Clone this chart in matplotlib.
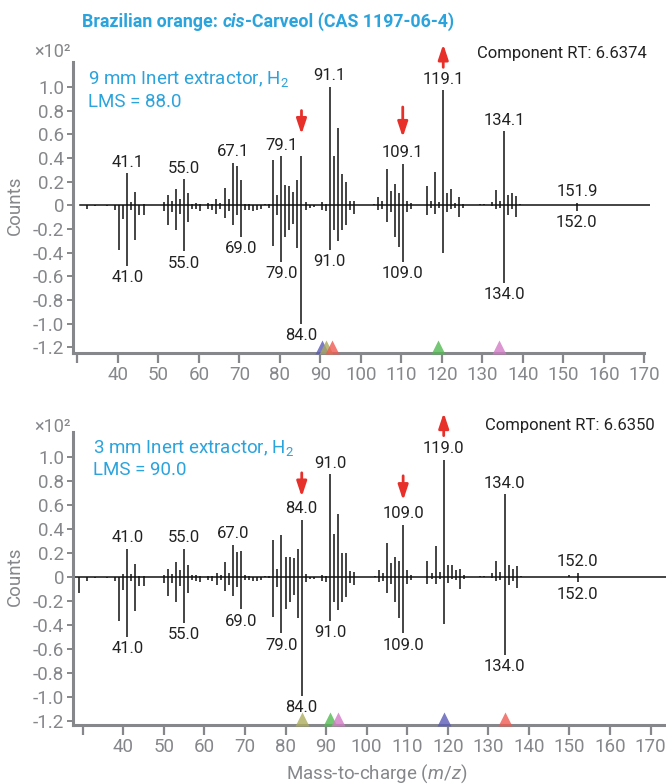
import numpy as np
import matplotlib
matplotlib.use("Agg")
import matplotlib.pyplot as plt
from matplotlib.transforms import blended_transform_factory

plt.rcParams['font.family'] = ['Roboto', 'DejaVu Sans']
plt.rcParams['mathtext.fontset'] = 'custom'
plt.rcParams['mathtext.rm'] = 'Roboto'
plt.rcParams['mathtext.it'] = 'Roboto:italic'

W, H = 666, 784
BLUE = '#2ba3dc'
GRAY = '#85878a'
RED = '#e8302a'

# m/z values shared by both panels
mz = [29, 31, 33, 36, 38, 39, 40, 41, 42, 43, 44, 45,
      50, 51, 52, 53, 54, 55, 56, 57, 58, 59,
      61, 62, 63, 64, 65, 66, 67, 68, 69, 70, 71, 72, 73, 74, 75, 76,
      77, 78, 79, 80, 81, 82, 83, 84, 85, 86, 87,
      89, 90, 91, 92, 93, 94, 95, 96, 97,
      102, 103, 104, 105, 106, 107, 108, 109, 110, 111,
      115, 116, 117, 118, 119, 120, 121, 122, 123, 124,
      128, 129, 131, 132, 133, 134, 135, 136, 137, 138,
      150, 152]

# 9 mm extractor (upper panel), x10^2 counts
sample_9mm = [0, 0, 0, 0, 0, 0, 0, 0.27, 0.03, 0.11, 0, 0.01,
              0.03, 0.09, 0.04, 0.14, 0.05, 0.22, 0.10, 0.01, 0.02, 0.01,
              0.02, 0.01, 0.05, 0.02, 0.15, 0.05, 0.36, 0.33, 0.21, 0.01, 0.01, 0, 0, 0, 0.01, 0.01,
              0.38, 0.09, 0.415, 0.17, 0.16, 0.11, 0.21, 0.415, 0.03, 0, 0,
              0.03, 0.01, 1.0, 0.42, 0.655, 0.26, 0.20, 0.04, 0.04,
              0.015, 0.07, 0.04, 0.31, 0.12, 0.18, 0.10, 0.35, 0.04, 0.02,
              0.16, 0.04, 0.28, 0.03, 0.97, 0.10, 0.14, 0.02, 0.07, 0.01,
              0.01, 0.01, 0.03, 0.13, 0.04, 0.627, 0.09, 0.10, 0.08, 0.01,
              0, 0.02]
library_9mm = [0, 0.034, 0.01, 0.01, 0.04, 0.38, 0.12, 0.51, 0.04, 0.29, 0.08, 0.08,
               0.05, 0.17, 0.06, 0.21, 0.07, 0.39, 0.14, 0.03, 0.03, 0.05,
               0.03, 0.04, 0.07, 0.03, 0.11, 0.05, 0.17, 0.08, 0.27, 0.04, 0.04, 0.045, 0.04, 0.03, 0, 0.02,
               0.34, 0.08, 0.48, 0.27, 0.21, 0.155, 0.36, 1.0, 0.04, 0.02, 0.015,
               0.04, 0.05, 0.375, 0.21, 0.30, 0.21, 0.17, 0.04, 0.07,
               0, 0.04, 0.03, 0.14, 0.06, 0.27, 0.35, 0.48, 0.06, 0.035,
               0.08, 0.02, 0.07, 0.02, 0.40, 0.06, 0.03, 0.02, 0.10, 0.02,
               0, 0, 0.005, 0.03, 0.025, 0.655, 0.08, 0.035, 0.10, 0,
               0, 0.05]

# 3 mm extractor (lower panel)
sample_3mm = [0, 0, 0, 0, 0, 0, 0.025, 0.235, 0.025, 0.11, 0.01, 0.01,
              0.02, 0.07, 0.025, 0.125, 0.06, 0.235, 0.10, 0.02, 0.015, 0.01,
              0.01, 0.01, 0.035, 0.015, 0.125, 0.035, 0.27, 0.205, 0.215, 0.015, 0.01, 0, 0, 0, 0.01, 0.005,
              0.31, 0.07, 0.35, 0.165, 0.165, 0.155, 0.23, 0.48, 0.025, 0, 0,
              0.015, 0.01, 0.86, 0.36, 0.53, 0.20, 0.20, 0.05, 0.04,
              0.01, 0.06, 0.035, 0.28, 0.12, 0.165, 0.135, 0.435, 0.06, 0.015,
              0.135, 0.035, 0.26, 0.04, 0.98, 0.10, 0.10, 0.06, 0.07, 0.015,
              0.01, 0.01, 0.03, 0.135, 0.045, 0.69, 0.10, 0.07, 0.09, 0.01,
              0.015, 0.035]
library_3mm = [0.13, 0.03, 0.01, 0.01, 0.03, 0.365, 0.11, 0.50, 0.03, 0.28, 0.075, 0.075,
               0.05, 0.16, 0.05, 0.205, 0.075, 0.385, 0.13, 0.025, 0.03, 0.04,
               0.025, 0.03, 0.065, 0.025, 0.115, 0.065, 0.155, 0.085, 0.27, 0.025, 0.025, 0.03, 0.03, 0.025, 0, 0.01,
               0.33, 0.085, 0.47, 0.27, 0.205, 0.15, 0.345, 0.99, 0.04, 0.02, 0.02,
               0.035, 0.04, 0.365, 0.21, 0.275, 0.205, 0.165, 0.05, 0.07,
               0, 0.04, 0.03, 0.13, 0.06, 0.205, 0.345, 0.47, 0.06, 0.025,
               0.06, 0.02, 0.06, 0.02, 0.39, 0.05, 0.02, 0.025, 0.10, 0.02,
               0, 0, 0.01, 0.035, 0.025, 0.65, 0.065, 0.035, 0.095, 0,
               0, 0.045]

# peak labels (m/z of stick, text)
label_mz = [41, 55, 67, 79, 91, 109, 119, 134, 152]
labels_9mm_up = ['41.1', '55.0', '67.1', '79.1', '91.1', '109.1', '119.1', '134.1', '151.9']
label_mz_3mm_up = [41, 55, 67, 84, 91, 109, 119, 134, 152]
labels_3mm_up = ['41.0', '55.0', '67.0', '84.0', '91.0', '109.0', '119.0', '134.0', '152.0']
label_mz_down = [41, 55, 69, 79, 84, 91, 109, 134, 152]
labels_down = ['41.0', '55.0', '69.0', '79.0', '84.0', '91.0', '109.0', '134.0', '152.0']

# red arrows: m/z, tail, tip
arrow_mz = [84, 109, 119]
arrows_9mm = [(0.80, 0.60), (0.83, 0.575), (1.165, 1.36)]
arrows_3mm = [(0.87, 0.67), (0.845, 0.64), (1.18, 1.37)]

# ion markers on the x axis
marker_colors_9mm = ['#5a5ab8', '#a9a95c', '#f05a52', '#52b852', '#d27cc6']
marker_mz_9mm = [90.5, 91.4, 93.0, 119.0, 134.0]
marker_colors_3mm = ['#adad5e', '#52b852', '#d27cc6', '#5a5ab8', '#f05a52']
marker_mz_3mm = [84, 91, 93, 119, 134]

panels = [
    dict(sample=sample_9mm, library=library_9mm, up_mz=label_mz, up_txt=labels_9mm_up,
         arrows=arrows_9mm, m_mz=marker_mz_9mm, m_col=marker_colors_9mm,
         name='9 mm Inert extractor, H$_2$', lms='LMS = 88.0', rt='Component RT: 6.6374',
         box=(72.7, 62, 650.4, 353.3), xlim=(28.86, 171.5), ylim=(-1.25, 1.21),
         shift=1.35, xspine_end=170, zero_from=0.013, text_x=88.3, text_y=(84.3, 106.7),
         rt_pos=(646.7, 57.7), x102_y=57),
    dict(sample=sample_3mm, library=library_3mm, up_mz=label_mz_3mm_up, up_txt=labels_3mm_up,
         arrows=arrows_3mm, m_mz=marker_mz_3mm, m_col=marker_colors_3mm,
         name='3 mm Inert extractor, H$_2$', lms='LMS = 90.0', rt='Component RT: 6.6350',
         box=(72.7, 431.7, 666, 725), xlim=(27.54, 173.8), ylim=(-1.235, 1.213),
         shift=0.0, xspine_end=173.8, zero_from=0.0, text_x=93.3, text_y=(453.3, 475),
         rt_pos=(655, 430), x102_y=431.5),
]

fig = plt.figure(figsize=(W / 100, H / 100), dpi=100)

for p in panels:
    l, t, r, b = p['box']
    ax = fig.add_axes([l / W, 1 - b / H, (r - l) / W, (b - t) / H])
    ax.set_xlim(*p['xlim'])
    ax.set_ylim(*p['ylim'])
    x = np.array(mz) + p['shift']
    ax.axhline(0, xmin=p['zero_from'], color='#111111', lw=1.1, zorder=2)
    ax.vlines(x, 0, p['sample'], color='#111111', lw=1.1, zorder=3)
    ax.vlines(x, 0, -np.array(p['library']), color='#111111', lw=1.1, zorder=3)

    up_vals = dict(zip(mz, p['sample']))
    dn_vals = dict(zip(mz, p['library']))
    for m, s in zip(p['up_mz'], p['up_txt']):
        ax.annotate(s, (m + p['shift'], up_vals[m]), xytext=(0, 2.5), textcoords='offset points',
                    ha='center', va='bottom', fontsize=12, color='#222222')
    for m, s in zip(label_mz_down, labels_down):
        ax.annotate(s, (m + p['shift'], -dn_vals[m]), xytext=(0, -3), textcoords='offset points',
                    ha='center', va='top', fontsize=12, color='#222222')

    for m, (y0, y1) in zip(arrow_mz, p['arrows']):
        ax.annotate('', xy=(m + p['shift'], y1), xytext=(m + p['shift'], y0),
                    arrowprops=dict(arrowstyle='-|>,head_length=0.45,head_width=0.15',
                                    mutation_scale=20, lw=2, color=RED,
                                    shrinkA=0, shrinkB=0),
                    annotation_clip=False)

    trans = blended_transform_factory(ax.transData, ax.transAxes)
    for m, c in zip(p['m_mz'], p['m_col']):
        ax.plot(m, 0.022, marker='^', ms=9.5, color=c, alpha=0.8, mec='none',
                transform=trans, clip_on=False, zorder=4)

    # axes styling
    for side in ['top', 'right']:
        ax.spines[side].set_visible(False)
    for side in ['left', 'bottom']:
        ax.spines[side].set_color(GRAY)
        ax.spines[side].set_linewidth(2.2)
    ax.spines['bottom'].set_bounds(p['xlim'][0], p['xspine_end'])
    xt = np.arange(30, 171, 10)
    ax.set_xticks(xt)
    ax.set_xticklabels([''] + [str(v) for v in xt[1:]])
    yt = np.round(np.arange(-1.2, 1.01, 0.2), 1)
    ax.set_yticks(yt)
    ax.set_yticklabels(['0' if v == 0 else f'{v:.1f}' for v in yt])
    ax.tick_params(axis='x', direction='out', length=7.5, width=1.6, color=GRAY,
                   labelcolor=GRAY, labelsize=13.5, pad=2)
    ax.tick_params(axis='y', direction='out', length=4.5, width=1.4, color=GRAY,
                   labelcolor=GRAY, labelsize=13.5, pad=1.5)

    # panel texts
    fig.text(p['text_x'] / W, 1 - p['text_y'][0] / H, p['name'], color=BLUE,
             fontsize=13.5, va='baseline', ha='left')
    fig.text(p['text_x'] / W, 1 - p['text_y'][1] / H, p['lms'], color=BLUE,
             fontsize=13.5, va='baseline', ha='left')
    fig.text(p['rt_pos'][0] / W, 1 - p['rt_pos'][1] / H, p['rt'], color='#222222',
             fontsize=12, va='baseline', ha='right')
    fig.text(70.7 / W, 1 - p['x102_y'] / H, '×10²', color=GRAY,
             fontsize=13, va='baseline', ha='right')
    fig.text(15 / W, 1 - ((t + b) / 2 - 2) / H, 'Counts', color=GRAY,
             fontsize=13.5, rotation=90, va='center', ha='center')

# title with italic "cis"
t1 = fig.text(82 / W, 1 - 26.7 / H, 'Brazilian orange: ', color=BLUE,
              fontsize=12.8, fontweight='bold', va='baseline', ha='left')
t2 = fig.axes[0].annotate('cis', xy=(1, 0), xycoords=t1, color=BLUE, fontsize=12.8,
                          fontweight='bold', style='italic', va='bottom', ha='left')
fig.axes[0].annotate('-Carveol (CAS 1197-06-4)', xy=(1, 0), xycoords=t2, color=BLUE,
                     fontsize=12.8, fontweight='bold', va='bottom', ha='left')

fig.text(377 / W, 1 - 779 / H, 'Mass-to-charge ($m/z$)', color=GRAY,
         fontsize=13.5, va='baseline', ha='center')

fig.savefig('out.png', dpi=100)
